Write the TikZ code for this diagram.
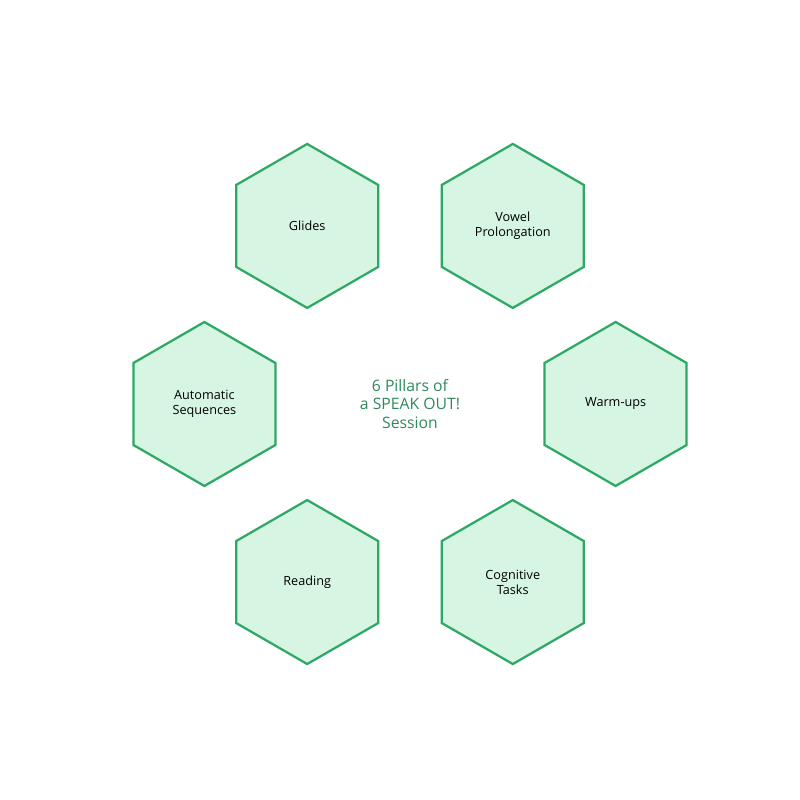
\documentclass[tikz,border=0pt]{standalone}
\usepackage{fontspec}
\setmainfont{Open Sans}
\usepackage{tikz}
\usetikzlibrary{shapes.geometric}
\definecolor{hex_green}{HTML}{2EA865}
\definecolor{hex_fill}{HTML}{D6F5E3}
\definecolor{title_green}{HTML}{2E8A5A}

\begin{document}
\begin{tikzpicture}[
        pillar/.style={regular polygon, regular polygon sides=6, shape border rotate=30,
            minimum size=4.1cm, inner sep=0pt, draw=hex_green, fill=hex_fill,
            line width=1.6pt, align=center, font=\fontsize{9}{10.6}\selectfont},
        title/.style={align=center, text=title_green, font=\fontsize{11.2}{13}\selectfont}
    ]
        % Cadre
        \useasboundingbox (0,0) rectangle (20,20);
        % Titre central
        \node[title] (centre) at (10.25,9.9) {6 Pillars of\\a SPEAK OUT!\\Session};

        % Hexagones
        \foreach \angle/\name/\label in {120/glides/{Glides}, 60/vowel/{Vowel\\Prolongation},
            0/warmups/{Warm-ups}, -60/cognitive/{Cognitive\\Tasks},
            -120/reading/{Reading}, 180/automatic/{Automatic\\Sequences}} {
        \node[pillar] (\name) at ([shift={(\angle:5.14)}]centre) {\label};
        }
    \end{tikzpicture}
\end{document}
